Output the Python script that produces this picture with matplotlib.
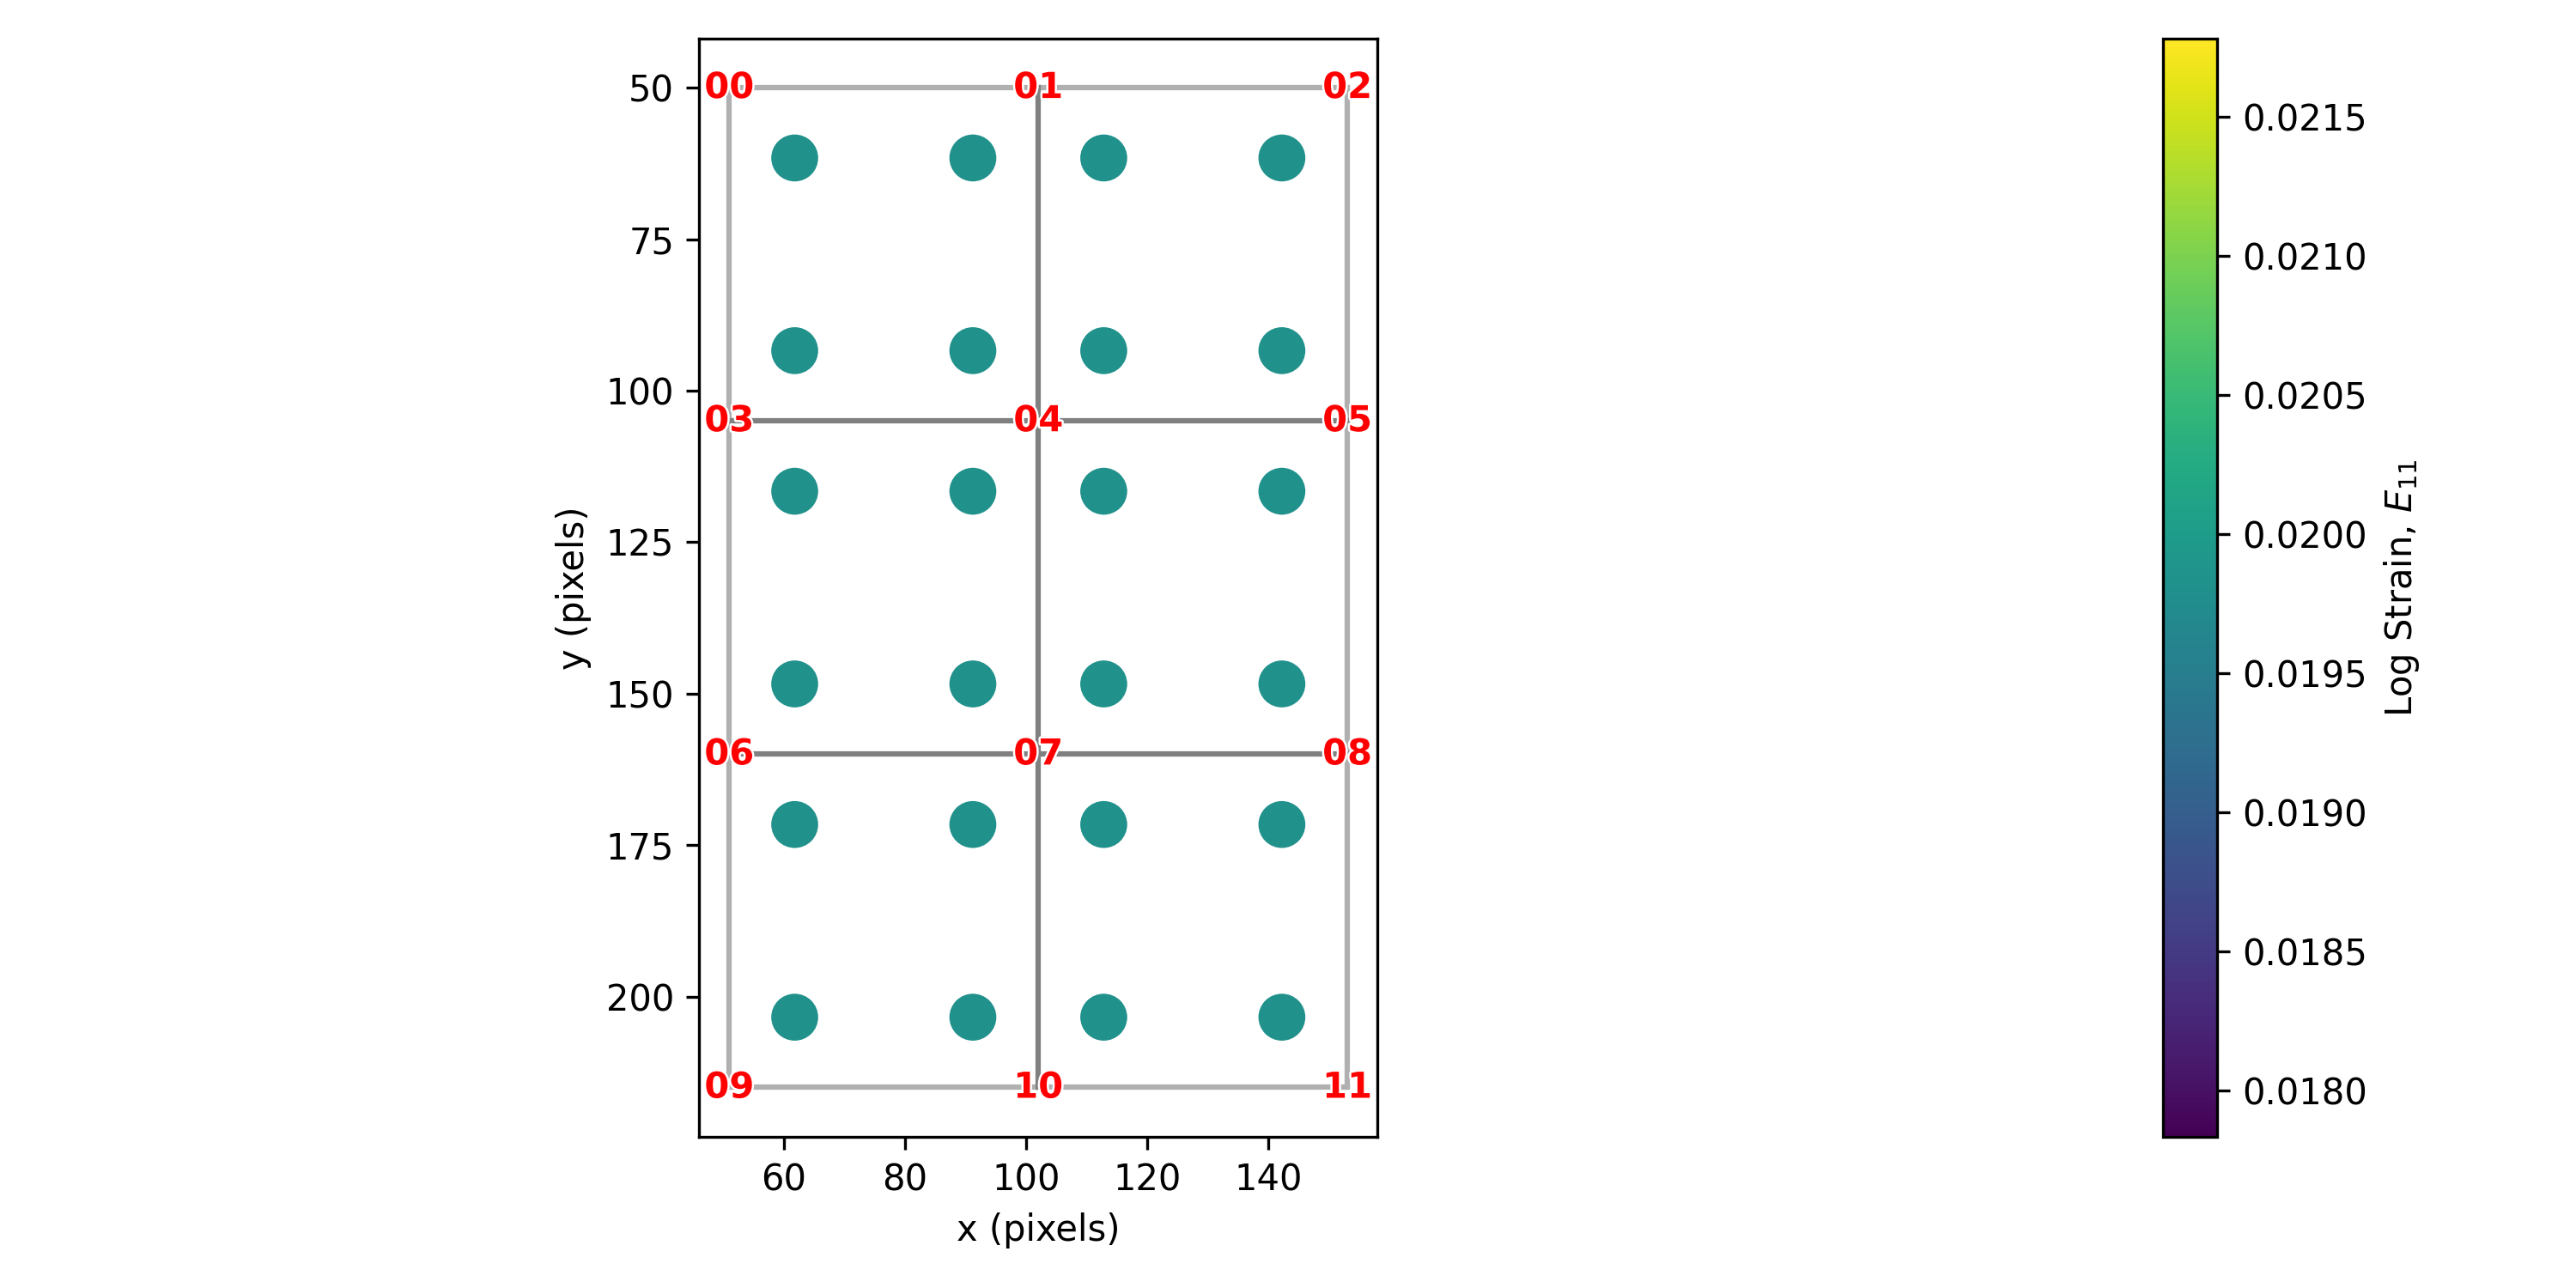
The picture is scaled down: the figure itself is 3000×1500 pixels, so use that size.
import matplotlib
matplotlib.use("Agg")
from matplotlib import pyplot as plt
from matplotlib import patheffects
from matplotlib.cm import ScalarMappable
from matplotlib.colors import Normalize

# mesh nodes
node_x = [51, 102, 153, 51, 102, 153, 51, 102, 153, 51, 102, 153]
node_y = [50, 50, 50, 105, 105, 105, 160, 160, 160, 215, 215, 215]
node_labels = ["00", "01", "02", "03", "04", "05", "06", "07", "08", "09", "10", "11"]

# edges as node pairs, boundary ones are lighter
outer_edges = [[0, 1], [1, 2], [2, 5], [5, 8], [8, 11], [11, 10], [10, 9], [9, 6], [6, 3], [3, 0]]
inner_edges = [[1, 4], [4, 7], [7, 10], [3, 4], [4, 5], [6, 7], [7, 8]]

# integration points
point_x = [61.8, 91.2, 112.8, 142.2]
point_y = [61.6, 93.4, 116.6, 148.4, 171.6, 203.4]
point_strain = 0.019807

vmin = 0.017833
vmax = 0.021781

fig = plt.figure(figsize=(10, 5), dpi=300)
ax = fig.add_axes([0.27145, 0.1171, 0.26335, 0.8527])

for a, b in outer_edges:
    ax.plot([node_x[a], node_x[b]], [node_y[a], node_y[b]], color="#b0b0b0", linewidth=1.5, zorder=1)
for a, b in inner_edges:
    ax.plot([node_x[a], node_x[b]], [node_y[a], node_y[b]], color="#808080", linewidth=1.5, zorder=1)

px = []
py = []
for y in point_y:
    for x in point_x:
        px.append(x)
        py.append(y)
norm = Normalize(vmin, vmax)
ax.scatter(px, py, c=[point_strain] * len(px), cmap="viridis", norm=norm, s=172, linewidths=0, zorder=2)

halo = [patheffects.withStroke(linewidth=1.2, foreground="white")]
for x, y, s in zip(node_x, node_y, node_labels):
    ax.text(x, y, s, color="red", fontweight="bold", ha="center", va="center", fontsize=10,
            path_effects=halo, zorder=3)

ax.set_xlim(46.05, 158.0)
ax.set_ylim(223.2, 41.95)
ax.set_aspect("equal")
ax.set_xticks([60, 80, 100, 120, 140])
ax.set_yticks([50, 75, 100, 125, 150, 175, 200])
ax.set_xlabel("x (pixels)")
ax.set_ylabel("y (pixels)")

cax = fig.add_axes([0.8397, 0.1171, 0.0210, 0.8527])
cb = fig.colorbar(ScalarMappable(norm=norm, cmap="viridis"), cax=cax)
cb.set_ticks([0.018, 0.0185, 0.019, 0.0195, 0.02, 0.0205, 0.021, 0.0215])
cb.ax.set_yticklabels(["0.0180", "0.0185", "0.0190", "0.0195", "0.0200", "0.0205", "0.0210", "0.0215"])
cb.set_label(r"Log Strain, $E_{11}$")

fig.savefig("out.png")
